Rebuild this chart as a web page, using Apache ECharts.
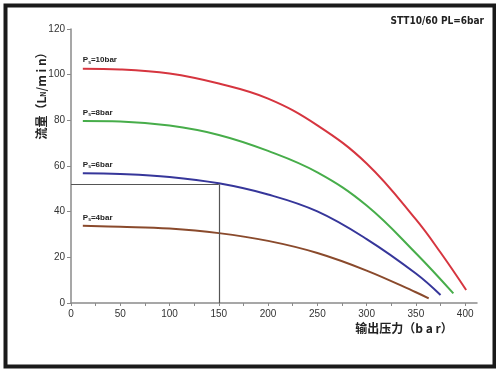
<!DOCTYPE html>
<html>
<head>
<meta charset="utf-8">
<script src="https://cdn.jsdelivr.net/npm/echarts@6/dist/echarts.min.js"></script>
<style>
html,body{margin:0;padding:0;background:#fff;}
#chart{width:496px;height:371px;}
</style>
</head>
<body>
<div id="chart"></div>
<script>
// Data
const xTickLabels = [0, 50, 100, 150, 200, 250, 300, 350, 400];
const xTicks = [0, 25, 50, 75, 100, 125, 150, 175, 200, 225, 250, 275, 300, 325, 350, 375, 400];

const seriesNames = ['10bar', '8bar', '6bar', '4bar'];

const press10 = [12, 50, 100, 150, 200, 250, 300, 350, 375, 401];
const flow10  = [102.6, 102.3, 100.5, 96.1, 89.5, 77.8, 61.1, 36.6, 22.1, 5.7];

const press8 = [12, 50, 100, 150, 200, 250, 300, 350, 388];
const flow8  = [79.7, 79.5, 77.7, 73.6, 66.6, 57.2, 42.7, 21.8, 4.2];

const press6 = [12, 50, 100, 150, 200, 250, 300, 350, 375];
const flow6  = [56.8, 56.5, 55.2, 52.4, 47.5, 40.1, 28.0, 12.9, 3.5];

const press4 = [12, 50, 100, 150, 200, 250, 300, 350, 363];
const flow4  = [33.8, 33.4, 32.6, 30.6, 27.2, 21.9, 14.2, 4.7, 2.0];

const refPoint = [150, 52];

const colors = ['#d6353f', '#47ad4a', '#36369a', '#8a4a2c'];
const presses = [press10, press8, press6, press4];
const flows = [flow10, flow8, flow6, flow4];

const chart = echarts.init(document.getElementById('chart'), null, {renderer: 'canvas'});

const series = seriesNames.map((n, i) => {
  const data = presses[i].map((p, j) => [p, flows[i][j]]);
  const s = {
    type: 'line',
    name: n,
    data: data,
    smooth: 0.4,
    showSymbol: false,
    symbol: 'none',
    lineStyle: {color: colors[i], width: 2},
    silent: true,
    markPoint: {
      silent: true,
      animation: false,
      data: [{
        coord: data[0],
        symbol: 'circle',
        symbolSize: 0,
        label: {
          show: true,
          position: 'top',
          distance: 4,
          align: 'left',
          formatter: '{p|P}{s|s}{t|=' + n + '}',
          rich: {
            p: {fontSize: 8, fontWeight: 'bold', color: '#222', fontFamily: 'Liberation Sans Narrow, Liberation Sans, sans-serif'},
            s: {fontSize: 5, fontWeight: 'bold', color: '#222', padding: [4, 0, 0, 0], fontFamily: 'Liberation Sans, sans-serif'},
            t: {fontSize: 8, fontWeight: 'bold', color: '#222', fontFamily: 'Liberation Sans Narrow, Liberation Sans, sans-serif'}
          }
        }
      }]
    }
  };
  if (i === 2) {
    s.markLine = {
      silent: true,
      animation: false,
      symbol: 'none',
      label: {show: false},
      lineStyle: {color: '#555', width: 1.2, type: 'solid'},
      data: [
        [{coord: [0, refPoint[1]]}, {coord: [refPoint[0], refPoint[1]]}],
        [{coord: [refPoint[0], refPoint[1]]}, {coord: [refPoint[0], 0]}]
      ]
    };
  }
  return s;
});

const option = {
  animation: false,
  backgroundColor: '#fff',
  title: {
    text: 'STT10/60 PL=6bar',
    right: 7,
    top: 11,
    textStyle: {fontSize: 10, fontWeight: 'bold', color: '#222', fontFamily: 'Liberation Sans Narrow, DejaVu Sans Condensed, sans-serif'}
  },
  grid: {left: 71, right: 19, top: 29, bottom: 68, containLabel: false},
  xAxis: {
    type: 'value',
    min: 0,
    max: 412,
    axisLine: {show: true, lineStyle: {color: '#8a8a8a', width: 1.5}},
    axisTick: {show: true, length: 3, lineStyle: {color: '#8a8a8a'}, customValues: xTicks},
    axisLabel: {customValues: xTickLabels, color: '#333', fontSize: 10, margin: 6, fontFamily: 'Liberation Sans, sans-serif'},
    splitLine: {show: false}
  },
  yAxis: {
    type: 'value',
    min: 0,
    max: 120,
    interval: 20,
    axisLine: {show: true, lineStyle: {color: '#8a8a8a', width: 1.5}},
    axisTick: {show: true, length: 4, lineStyle: {color: '#8a8a8a'}},
    axisLabel: {color: '#333', fontSize: 10, margin: 6, fontFamily: 'Liberation Sans, sans-serif'},
    splitLine: {show: false}
  },
  graphic: [
    {
      type: 'rect',
      left: 3, top: 3,
      shape: {width: 489, height: 361},
      style: {fill: 'none', stroke: '#1a1a1a', lineWidth: 4},
      silent: true, z: 100
    },
    {
      type: 'text',
      x: 41, y: 93,
      rotation: Math.PI / 2,
      style: {
        text: '{a|流量（L}{b|N}{a|/m i n）}',
        align: 'center',
        verticalAlign: 'middle',
        rich: {
          a: {fontSize: 12, fontWeight: 'bold', fill: '#222', fontFamily: 'Noto Sans CJK SC, sans-serif'},
          b: {fontSize: 7, fontWeight: 'bold', fill: '#222', padding: [5, 0, 0, 0], fontFamily: 'Noto Sans CJK SC, sans-serif'}
        }
      },
      silent: true
    },
    {
      type: 'text',
      x: 404, y: 328,
      style: {
        text: '输出压力（b a r）',
        align: 'center',
        verticalAlign: 'middle',
        fontSize: 12,
        fontWeight: 'bold',
        fill: '#222',
        fontFamily: 'Noto Sans CJK SC, sans-serif'
      },
      silent: true
    }
  ],
  series: series
};
chart.setOption(option);
</script>
</body>
</html>
